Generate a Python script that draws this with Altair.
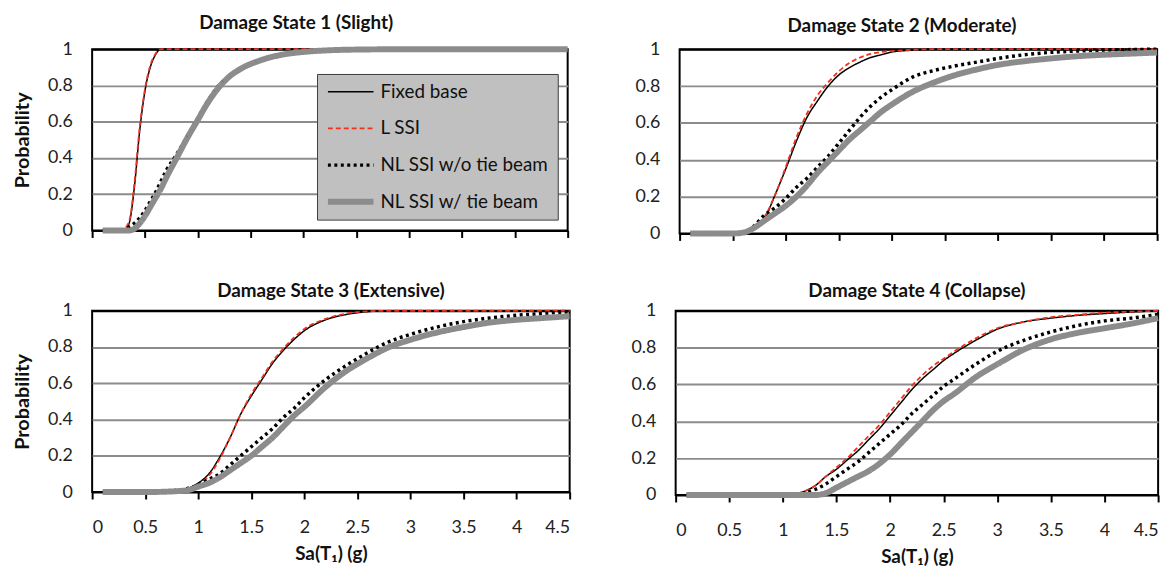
import altair as alt
import pandas as pd

SERIES = ["Fixed base", "L SSI", "NL SSI w/o tie beam", "NL SSI w/ tie beam"]
COLORS = ["#000000", "#f2311d", "#000000", "#8c8c8c"]
DASHES = [[1, 0], [5, 3], [3, 3.5], [1, 0]]
WIDTHS = [1.5, 1.8, 3.5, 6]
XTICKS = [0, 0.5, 1, 1.5, 2, 2.5, 3, 3.5, 4, 4.5]
YTICKS = [0, 0.2, 0.4, 0.6, 0.8, 1]

# Damage State 1 (Slight)
x1 = [0.1, 0.3, 0.35, 0.4, 0.45, 0.5, 0.55, 0.6, 0.65, 0.7, 0.8, 0.9, 1.0, 1.1, 1.2, 1.3, 1.4, 1.6, 1.8, 2.0, 2.2, 2.5, 3.0, 3.5, 4.0, 4.5]
fb1 = [0, 0, 0.04, 0.24, 0.55, 0.77, 0.9, 0.97, 1, 1, 1, 1, 1, 1, 1, 1, 1, 1, 1, 1, 1, 1, 1, 1, 1, 1]
ls1 = [0, 0.01, 0.05, 0.26, 0.57, 0.78, 0.91, 0.975, 1, 1, 1, 1, 1, 1, 1, 1, 1, 1, 1, 1, 1, 1, 1, 1, 1, 1]
nl1 = [0, 0, 0.02, 0.04, 0.07, 0.11, 0.16, 0.21, 0.27, 0.33, 0.42, 0.52, 0.62, 0.72, 0.8, 0.85, 0.89, 0.94, 0.97, 0.985, 0.993, 0.998, 1, 1, 1, 1]
tb1 = [0, 0, 0, 0.01, 0.04, 0.08, 0.13, 0.18, 0.23, 0.29, 0.40, 0.51, 0.61, 0.71, 0.79, 0.85, 0.89, 0.94, 0.97, 0.985, 0.993, 0.998, 1, 1, 1, 1]

# Damage State 2 (Moderate)
x2 = [0.1, 0.5, 0.6, 0.7, 0.8, 0.9, 1.0, 1.1, 1.2, 1.3, 1.4, 1.5, 1.6, 1.7, 1.8, 1.9, 2.0, 2.2, 2.4, 2.6, 2.8, 3.0, 3.25, 3.5, 3.75, 4.0, 4.25, 4.5]
fb2 = [0, 0, 0.005, 0.03, 0.08, 0.21, 0.35, 0.5, 0.63, 0.72, 0.8, 0.86, 0.9, 0.93, 0.955, 0.97, 0.985, 0.995, 1, 1, 1, 1, 1, 1, 1, 1, 1, 1]
ls2 = [0, 0, 0.005, 0.03, 0.09, 0.21, 0.36, 0.52, 0.65, 0.75, 0.82, 0.88, 0.925, 0.955, 0.975, 0.985, 0.99, 0.997, 1, 1, 1, 1, 1, 1, 1, 1, 1, 1]
nl2 = [0, 0, 0.005, 0.04, 0.1, 0.14, 0.19, 0.25, 0.3, 0.36, 0.42, 0.49, 0.56, 0.63, 0.69, 0.74, 0.78, 0.85, 0.885, 0.91, 0.93, 0.95, 0.97, 0.983, 0.99, 0.995, 0.998, 1]
tb2 = [0, 0, 0.005, 0.03, 0.07, 0.11, 0.15, 0.2, 0.26, 0.33, 0.39, 0.45, 0.51, 0.56, 0.61, 0.66, 0.7, 0.77, 0.82, 0.86, 0.89, 0.915, 0.935, 0.95, 0.962, 0.97, 0.976, 0.982]

# Damage State 3 (Extensive)
x3 = [0.1, 0.5, 0.8, 0.9, 1.0, 1.1, 1.2, 1.3, 1.4, 1.5, 1.6, 1.7, 1.8, 1.9, 2.0, 2.2, 2.4, 2.6, 2.8, 3.0, 3.25, 3.5, 3.75, 4.0, 4.25, 4.5]
fb3 = [0, 0, 0.01, 0.02, 0.05, 0.1, 0.19, 0.3, 0.43, 0.53, 0.62, 0.71, 0.78, 0.84, 0.89, 0.95, 0.98, 0.995, 1, 1, 1, 1, 1, 1, 1, 1]
ls3 = [0, 0, 0.005, 0.015, 0.04, 0.09, 0.18, 0.3, 0.43, 0.54, 0.63, 0.72, 0.79, 0.85, 0.9, 0.955, 0.985, 0.997, 1, 1, 1, 1, 1, 1, 1, 1]
nl3 = [0, 0, 0.01, 0.02, 0.04, 0.07, 0.1, 0.15, 0.2, 0.25, 0.3, 0.35, 0.41, 0.46, 0.52, 0.62, 0.7, 0.77, 0.83, 0.87, 0.91, 0.94, 0.96, 0.975, 0.985, 0.995]
tb3 = [0, 0, 0.005, 0.01, 0.03, 0.05, 0.08, 0.12, 0.16, 0.2, 0.25, 0.3, 0.36, 0.42, 0.47, 0.58, 0.67, 0.74, 0.8, 0.84, 0.88, 0.91, 0.935, 0.95, 0.96, 0.97]

# Damage State 4 (Collapse)
x4 = [0.1, 1.0, 1.1, 1.2, 1.3, 1.4, 1.5, 1.6, 1.7, 1.8, 1.9, 2.0, 2.1, 2.2, 2.3, 2.4, 2.5, 2.6, 2.8, 3.0, 3.25, 3.5, 3.75, 4.0, 4.25, 4.5]
fb4 = [0, 0, 0.005, 0.02, 0.05, 0.1, 0.14, 0.19, 0.24, 0.3, 0.36, 0.43, 0.5, 0.57, 0.63, 0.68, 0.73, 0.77, 0.84, 0.9, 0.94, 0.96, 0.975, 0.985, 0.993, 1.0]
ls4 = [0, 0, 0.005, 0.02, 0.05, 0.1, 0.15, 0.2, 0.26, 0.32, 0.38, 0.45, 0.52, 0.59, 0.65, 0.7, 0.74, 0.78, 0.85, 0.905, 0.94, 0.965, 0.978, 0.99, 0.995, 1.0]
nl4 = [0, 0, 0, 0.01, 0.03, 0.06, 0.1, 0.14, 0.18, 0.23, 0.28, 0.33, 0.38, 0.44, 0.49, 0.54, 0.59, 0.63, 0.71, 0.78, 0.84, 0.885, 0.92, 0.945, 0.96, 0.98]
tb4 = [0, 0, 0, 0, 0, 0.01, 0.04, 0.07, 0.1, 0.13, 0.17, 0.22, 0.28, 0.34, 0.4, 0.46, 0.51, 0.55, 0.64, 0.71, 0.79, 0.845, 0.88, 0.905, 0.93, 0.96]

TITLES = ["Damage State 1 (Slight)", "Damage State 2 (Moderate)",
          "Damage State 3 (Extensive)", "Damage State 4 (Collapse)"]

FONT = "Lato"


def panel(xs, ys_list, title, w, h, toff, frame, bottom, left, legend):
    rows = []
    for s, ys in zip(SERIES, ys_list):
        for xv, yv in zip(xs, ys):
            rows.append({"x": xv, "p": yv, "series": s})
    df = pd.DataFrame(rows)

    xaxis = alt.Axis(values=XTICKS, format="~g", labels=bottom, grid=False,
                     domain=False, ticks=True, tickSize=7, tickWidth=2,
                     tickColor="black", labelPadding=20, labelFontSize=18,
                     labelColor="#222222", labelFont=FONT,
                     titleFontSize=19, titleFontWeight="bold", titlePadding=8,
                     titleColor="#111111", titleFont=FONT)
    yaxis = alt.Axis(values=YTICKS, format="~g", ticks=False, domain=False,
                     labelPadding=20, labelFontSize=18, labelColor="#222222",
                     labelFont=FONT,
                     gridColor=alt.condition("datum.value == 0 || datum.value == 1",
                                             alt.value("#000000"), alt.value("#8c8c8c")),
                     gridWidth=2,
                     titleFontSize=20, titleFontWeight="bold", titlePadding=15,
                     titleColor="#111111", titleFont=FONT)
    if legend:
        leg = alt.Legend(orient="none", legendX=227, legendY=25, title=None,
                         fillColor="#c0c0c0", strokeColor="#3c3c3c",
                         padding=8, symbolType="stroke", symbolSize=2116,
                         labelFontSize=19, labelFont=FONT, labelColor="#111111",
                         labelOffset=4, clipHeight=20, rowPadding=17,
                         labelLimit=300)
    else:
        leg = None

    layers = []
    for s in SERIES:
        layers.append(
            alt.Chart(df)
            .transform_filter(alt.datum.series == s)
            .mark_line(clip=False, interpolate="monotone")
            .encode(
                x=alt.X("x:Q", scale=alt.Scale(domain=[0, 4.5], nice=False),
                        axis=xaxis, title="Sa(T₁) (g)" if bottom else None),
                y=alt.Y("p:Q", scale=alt.Scale(domain=[0, 1], nice=False),
                        axis=yaxis, title="Probability" if left else None),
                color=alt.Color("series:N", scale=alt.Scale(domain=SERIES, range=COLORS), legend=leg),
                strokeDash=alt.StrokeDash("series:N", scale=alt.Scale(domain=SERIES, range=DASHES), legend=leg),
                strokeWidth=alt.StrokeWidth("series:N", scale=alt.Scale(type="ordinal", domain=SERIES, range=WIDTHS), legend=leg),
            )
        )
    return alt.layer(*layers).properties(
        width=w, height=h,
        title=alt.TitleParams(title, fontSize=19, font=FONT, fontWeight="bold",
                              color="#111111", offset=toff, anchor="middle",
                              frame=frame),
    )


p1 = panel(x1, [fb1, ls1, nl1, tb1], TITLES[0], 480, 183, 4, "bounds", False, True, True)
p2 = panel(x2, [fb2, ls2, nl2, tb2], TITLES[1], 482, 186, 4, "bounds", False, False, False)
p3 = panel(x3, [fb3, ls3, nl3, tb3], TITLES[2], 482, 183, 1, "group", True, True, False)
p4 = panel(x4, [fb4, ls4, nl4, tb4], TITLES[3], 487, 186, 1, "group", True, False, False)

indep = dict(color="independent", strokeDash="independent", strokeWidth="independent")
row1 = alt.hconcat(p1, p2, spacing=53).resolve_legend(**indep)
row2 = alt.hconcat(p3, p4, spacing=47).resolve_legend(**indep)

chart = (
    alt.vconcat(row1, row2, spacing=35)
    .resolve_legend(**indep)
    .properties(padding={"left": 11, "top": 11, "right": 0, "bottom": 0})
    .configure(font=FONT)
    .configure_view(stroke="#000000", strokeWidth=2)
)

chart.save("out.html", embed_options={"renderer": "svg", "actions": False})
